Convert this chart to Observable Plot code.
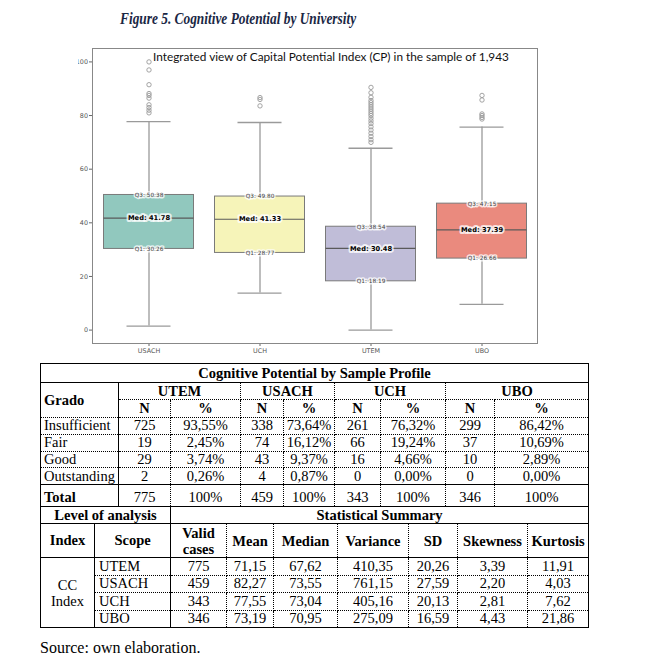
<!DOCTYPE html>
<html><head><meta charset="utf-8">
<script src="https://cdn.jsdelivr.net/npm/d3@7"></script>
<script src="https://cdn.jsdelivr.net/npm/@observablehq/plot@0.6"></script>
<style>
body{margin:0;background:#fff;width:661px;height:670px;position:relative;overflow:hidden}
#title{position:absolute;left:120px;top:9px;font:italic bold 16.5px "Liberation Serif";color:#1a2744;white-space:nowrap;transform:scaleX(0.81);transform-origin:0 0}
#chart{position:absolute;left:0;top:38px;width:661px;height:322px;clip-path:inset(0 0 0 78px)}
#tables{position:absolute;left:40px;top:363px}
table{border-collapse:collapse;table-layout:fixed;width:548px;font-family:"Liberation Serif";font-size:14.5px;color:#000;border:1px solid #000}
td{border:1px dotted #000;padding:0;text-align:center;line-height:15px;white-space:nowrap;overflow:hidden;vertical-align:middle}
td.b{font-weight:bold}
td.l{text-align:left;padding-left:3px}
td.rs{border-right:1px solid #000}
td.bs{border-bottom:1px solid #000}
td.ts{border-top:1px solid #000}
#t2{margin-top:-1px}
#source{position:absolute;left:40px;top:639px;font:16px "Liberation Serif";color:#000}
</style></head>
<body>
<div id="title">Figure 5. Cognitive Potential by University</div>
<div id="chart"></div>
<div id="tables"></div>
<div id="source">Source: own elaboration.</div>
<script>
// ---------- Chart data ----------
const universities = ["USACH", "UCH", "UTEM", "UBO"];
const q1Values = [30.26, 28.77, 18.19, 26.66];
const medianValues = [41.78, 41.33, 30.48, 37.39];
const q3Values = [50.38, 49.80, 38.54, 47.15];
const whiskerLow = [1.5, 13.8, 0.0, 9.6];
const whiskerHigh = [77.7, 77.4, 67.8, 75.7];
const outliersUSACH = [100.0, 97.0, 91.5, 88.2, 87.5, 86.5, 84.0, 83.0, 82.0, 81.0];
const outliersUCH = [86.7, 86.0, 83.6];
const outliersUTEM = [90.5, 88.5, 86.8, 85.6, 84.8, 84.0, 83.2, 82.4, 81.6, 80.8, 80.0, 79.0, 78.0, 77.0, 75.8, 74.6, 73.4, 72.2, 71.0, 70.0];
const outliersUBO = [87.5, 85.8, 80.6, 80.0, 79.3, 78.7];
const boxColors = ["#91c8be", "#f6f4b9", "#c0bdd8", "#ea8a7e"];
const yTicks = [0, 20, 40, 60, 80, 100];
const chartTitle = "Integrated view of Capital Potential Index (CP) in the sample of 1,943";

// ---------- Table data ----------
const tableTitle = "Cognitive Potential by Sample Profile";
const tableUnis = ["UTEM", "USACH", "UCH", "UBO"];
const grades = ["Insufficient", "Fair", "Good", "Outstanding"];
const countsUTEM = [725, 19, 29, 2];
const pctUTEM = ["93,55%", "2,45%", "3,74%", "0,26%"];
const countsUSACH = [338, 74, 43, 4];
const pctUSACH = ["73,64%", "16,12%", "9,37%", "0,87%"];
const countsUCH = [261, 66, 16, 0];
const pctUCH = ["76,32%", "19,24%", "4,66%", "0,00%"];
const countsUBO = [299, 37, 10, 0];
const pctUBO = ["86,42%", "10,69%", "2,89%", "0,00%"];
const totals = [775, 459, 343, 346];
const statHeaders = ["Valid<br>cases", "Mean", "Median", "Variance", "SD", "Skewness", "Kurtosis"];
const validCases = [775, 459, 343, 346];
const means = ["71,15", "82,27", "77,55", "73,19"];
const medians = ["67,62", "73,55", "73,04", "70,95"];
const variances = ["410,35", "761,15", "405,16", "275,09"];
const sds = ["20,26", "27,59", "20,13", "16,59"];
const skews = ["3,39", "2,20", "2,81", "4,43"];
const kurts = ["11,91", "4,03", "7,62", "21,86"];

// ---------- Build chart ----------
const boxes = universities.map((u, i) => ({u, q1: q1Values[i], med: medianValues[i], q3: q3Values[i], lo: whiskerLow[i], hi: whiskerHigh[i]}));
const outliers = [
  ...outliersUSACH.map(v => ({u: "USACH", v})),
  ...outliersUCH.map(v => ({u: "UCH", v})),
  ...outliersUTEM.map(v => ({u: "UTEM", v})),
  ...outliersUBO.map(v => ({u: "UBO", v}))
];
const fmt = d3.format(".2f");
const plot = Plot.plot({
  width: 661, height: 322,
  marginLeft: 92, marginRight: 124, marginTop: 10, marginBottom: 17,
  style: {fontFamily: "DejaVu Sans", fontSize: "6.4px", color: "#555", background: "transparent"},
  x: {type: "band", domain: universities, padding: 0, label: null},
  y: {domain: [-5, 105], label: null},
  color: {domain: universities, range: boxColors},
  marks: [
    Plot.ruleX(boxes, {x: "u", y1: "lo", y2: "q1", stroke: "#9a9a9a", strokeWidth: 1.3}),
    Plot.ruleX(boxes, {x: "u", y1: "q3", y2: "hi", stroke: "#9a9a9a", strokeWidth: 1.3}),
    Plot.tickY(boxes, {x: "u", y: "lo", stroke: "#9a9a9a", strokeWidth: 1.3, insetLeft: 33.5, insetRight: 33.5}),
    Plot.tickY(boxes, {x: "u", y: "hi", stroke: "#9a9a9a", strokeWidth: 1.3, insetLeft: 33.5, insetRight: 33.5}),
    Plot.barY(boxes, {x: "u", y1: "q1", y2: "q3", fill: "u", stroke: "#7a7a7a", strokeWidth: 1, insetLeft: 10.5, insetRight: 10.5}),
    Plot.tickY(boxes, {x: "u", y: "med", stroke: "#5a5a5a", strokeWidth: 1.2, insetLeft: 10.5, insetRight: 10.5}),
    Plot.dot(outliers, {x: "u", y: "v", r: 2.2, stroke: "#9a9a9a", strokeWidth: 0.9, fill: "none"}),
    Plot.text(boxes, {x: "u", y: "q3", text: d => "Q3: " + fmt(d.q3), fontSize: 5.8, fill: "#444", stroke: "white", strokeWidth: 3, strokeOpacity: 0.75}),
    Plot.text(boxes, {x: "u", y: "q1", text: d => "Q1: " + fmt(d.q1), fontSize: 5.8, fill: "#444", stroke: "white", strokeWidth: 3, strokeOpacity: 0.75}),
    Plot.text(boxes, {x: "u", y: "med", text: d => "Med: " + fmt(d.med), fontSize: 6.7, fontWeight: "bold", fill: "#000", stroke: "white", strokeWidth: 4, strokeOpacity: 0.75}),
    Plot.text([chartTitle], {frameAnchor: "top", dx: 16, dy: 9, lineAnchor: "middle", fontSize: 11.8, fontFamily: "Lato", fill: "#111"}),
    Plot.axisY({ticks: yTicks, tickSize: 3, tickPadding: 1.5, stroke: "#666"}),
    Plot.axisX({tickSize: 3, tickPadding: 2, stroke: "#666"}),
    Plot.frame({stroke: "#888"})
  ]
});
document.getElementById("chart").appendChild(plot);

// ---------- Build tables ----------
const counts = [countsUTEM, countsUSACH, countsUCH, countsUBO];
const pcts = [pctUTEM, pctUSACH, pctUCH, pctUBO];
const w1 = [78, 52, 70, 43, 51, 46, 65, 49, 94];
let h = `<table id="t1"><colgroup>${w1.map(w => `<col style="width:${w}px">`).join("")}</colgroup>`;
h += `<tr style="height:19px"><td class="b bs" colspan="9">${tableTitle}</td></tr>`;
h += `<tr style="height:17px"><td class="b l rs" rowspan="2">Grado</td>${tableUnis.map(u => `<td class="b" colspan="2">${u}</td>`).join("")}</tr>`;
h += `<tr style="height:18px">${tableUnis.map(() => `<td class="b">N</td><td class="b">%</td>`).join("")}</tr>`;
grades.forEach((g, i) => {
  h += `<tr style="height:16.75px"><td class="l rs">${g}</td>${tableUnis.map((u, j) => `<td>${counts[j][i]}</td><td>${pcts[j][i]}</td>`).join("")}</tr>`;
});
h += `<tr style="height:22px"><td class="b l rs ts" style="padding-top:3px">Total</td>${totals.map(t => `<td class="ts" style="padding-top:3px">${t}</td><td class="ts" style="padding-top:3px">100%</td>`).join("")}</tr>`;
h += `</table>`;
const w2 = [54, 76, 56, 47, 64, 71, 49, 70, 61];
const stats = [validCases, means, medians, variances, sds, skews, kurts];
h += `<table id="t2"><colgroup>${w2.map(w => `<col style="width:${w}px">`).join("")}</colgroup>`;
h += `<tr style="height:17px"><td class="b rs bs" colspan="2">Level of analysis</td><td class="b bs" colspan="7">Statistical Summary</td></tr>`;
h += `<tr style="height:34px"><td class="b rs bs">Index</td><td class="b rs bs">Scope</td>${statHeaders.map(s => `<td class="b bs" style="line-height:16px">${s}</td>`).join("")}</tr>`;
tableUnis.forEach((u, i) => {
  h += `<tr style="height:17.5px">${i === 0 ? `<td class="rs" rowspan="4" style="line-height:16px">CC<br>Index</td>` : ""}<td class="l rs" style="padding-left:4px">${u}</td>${stats.map(s => `<td>${s[i]}</td>`).join("")}</tr>`;
});
h += `</table>`;
document.getElementById("tables").innerHTML = h;
</script>
</body></html>
